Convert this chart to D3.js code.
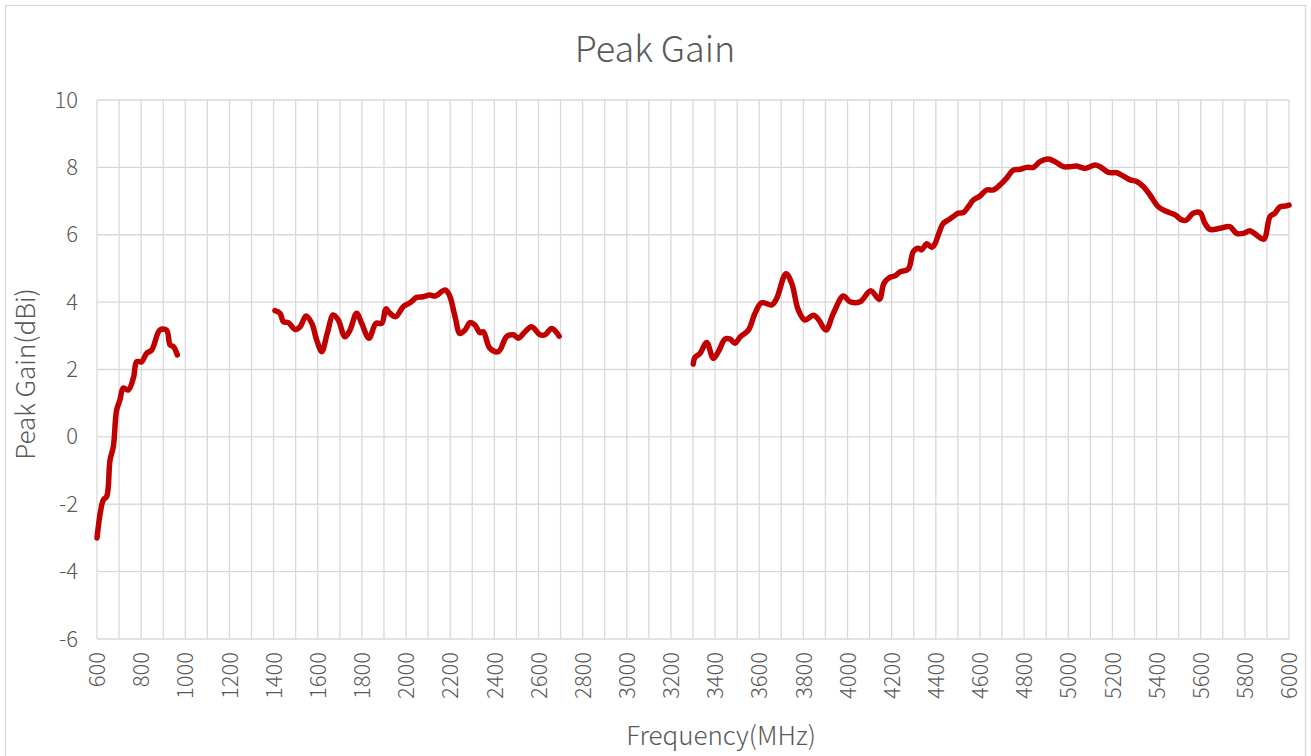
<!DOCTYPE html>
<html>
<head>
<meta charset="utf-8">
<script src="https://cdn.jsdelivr.net/npm/d3@7"></script>
<style>
  body { margin: 0; background: #fff; }
  text { font-family: "Noto Sans CJK SC", "Noto Sans", sans-serif; font-weight: 300; fill: #595959; }
</style>
</head>
<body>
<div class="chart-container"></div>
<script>
// data: [frequency MHz, peak gain dBi]
const band1 = [
  [600, -3.0], [629, -1.87], [644, -1.77], [659, -0.69], [674, -0.29], [689, 0.8],
  [704, 1.1], [719, 1.45], [742, 1.39], [765, 1.75], [780, 2.23], [802, 2.23],
  [825, 2.48], [848, 2.58], [885, 3.17], [915, 3.17], [931, 2.73], [946, 2.68], [964, 2.43]
];
const band2 = [
  [1406, 3.75], [1429, 3.67], [1444, 3.42], [1467, 3.39], [1497, 3.19], [1520, 3.27],
  [1547, 3.59], [1573, 3.37], [1595, 2.88], [1618, 2.53], [1643, 3.07], [1670, 3.62],
  [1693, 3.47], [1723, 2.97], [1746, 3.17], [1776, 3.67], [1799, 3.37], [1832, 2.93],
  [1864, 3.37], [1890, 3.37], [1909, 3.8], [1927, 3.67], [1953, 3.57], [1988, 3.87],
  [2018, 3.98], [2048, 4.14], [2078, 4.16], [2108, 4.21], [2131, 4.18], [2177, 4.36],
  [2196, 4.21], [2222, 3.57], [2244, 3.07], [2267, 3.17], [2290, 3.39], [2312, 3.32],
  [2335, 3.09], [2350, 3.12], [2380, 2.63], [2418, 2.53], [2456, 2.98], [2486, 3.03],
  [2509, 2.93], [2539, 3.12], [2569, 3.27], [2607, 3.03], [2630, 3.03], [2660, 3.22], [2694, 2.99]
];
const band3 = [
  [3301, 2.16], [3309, 2.36], [3332, 2.48], [3362, 2.8], [3392, 2.33], [3415, 2.53],
  [3445, 2.9], [3468, 2.9], [3490, 2.78], [3513, 2.96], [3551, 3.17], [3581, 3.67],
  [3611, 3.98], [3657, 3.92], [3679, 4.11], [3721, 4.84], [3747, 4.56], [3777, 3.77],
  [3807, 3.47], [3845, 3.61], [3868, 3.49], [3902, 3.17], [3936, 3.67], [3981, 4.18],
  [4011, 4.01], [4057, 4.01], [4105, 4.34], [4144, 4.08], [4165, 4.56], [4193, 4.74],
  [4215, 4.78], [4238, 4.9], [4275, 4.98], [4298, 5.5], [4321, 5.6], [4336, 5.55],
  [4359, 5.73], [4381, 5.63], [4396, 5.73], [4411, 5.99], [4434, 6.34], [4457, 6.44],
  [4479, 6.54], [4502, 6.64], [4525, 6.66], [4547, 6.83], [4570, 7.03], [4600, 7.15],
  [4630, 7.33], [4661, 7.33], [4691, 7.48], [4721, 7.68], [4751, 7.92], [4781, 7.94],
  [4812, 8.0], [4842, 8.0], [4872, 8.17], [4910, 8.25], [4940, 8.17], [4978, 8.02],
  [5008, 8.02], [5038, 8.04], [5076, 7.97], [5121, 8.07], [5144, 8.02], [5182, 7.85],
  [5220, 7.84], [5242, 7.77], [5280, 7.63], [5310, 7.58], [5340, 7.43], [5370, 7.18],
  [5408, 6.83], [5446, 6.69], [5484, 6.59], [5514, 6.44], [5536, 6.44], [5566, 6.64],
  [5597, 6.66], [5619, 6.34], [5642, 6.16], [5687, 6.19], [5732, 6.24], [5762, 6.04],
  [5793, 6.04], [5823, 6.12], [5853, 5.99], [5886, 5.87], [5914, 6.54], [5936, 6.64],
  [5959, 6.83], [5982, 6.85], [6000, 6.88]
];
const bands = [band1, band2, band3];
const xTicks = d3.range(600, 6001, 200);
const xGrid = d3.range(600, 6001, 100);
const yTicks = d3.range(-6, 11, 2);

const svg_width = 1311;
const svg_height = 756;
const chart_margin = { top: 100, right: 22, bottom: 117, left: 97 };
const chart_width = svg_width - chart_margin.left - chart_margin.right;
const chart_height = svg_height - chart_margin.top - chart_margin.bottom;
const tickFont = '22px';
const plainNum = d => String(d).replace('\u2212', '-');

const svg = d3.select('.chart-container').append('svg')
  .attr('width', svg_width).attr('height', svg_height);

// outer chart border
svg.append('rect')
  .attr('x', 5.5).attr('y', 5.5)
  .attr('width', 1300).attr('height', 760)
  .attr('fill', 'none').attr('stroke', '#d9d9d9').attr('stroke-width', 1.3);

const g = svg.append('g')
  .attr('transform', `translate(${chart_margin.left},${chart_margin.top})`);

const xScale = d3.scaleLinear().domain([600, 6000]).range([0, chart_width]);
const yScale = d3.scaleLinear().domain([-6, 10]).range([chart_height, 0]);

// grid
g.append('g').selectAll('line').data(xGrid).join('line')
  .attr('x1', d => xScale(d)).attr('x2', d => xScale(d))
  .attr('y1', 0).attr('y2', chart_height)
  .attr('stroke', '#d9d9d9').attr('stroke-width', 1.3);
g.append('g').selectAll('line').data(yTicks).join('line')
  .attr('x1', 0).attr('x2', chart_width)
  .attr('y1', d => yScale(d)).attr('y2', d => yScale(d))
  .attr('stroke', '#d9d9d9').attr('stroke-width', 1.3);

// axes (labels only)
const xAxis = d3.axisBottom(xScale).tickValues(xTicks).tickFormat(plainNum).tickSize(0).tickPadding(0);
const xAxisDraw = g.append('g').attr('transform', `translate(0,${chart_height})`).call(xAxis);
xAxisDraw.select('.domain').remove();
xAxisDraw.selectAll('text')
  .attr('transform', 'rotate(-90)')
  .attr('x', -13).attr('y', 0).attr('dy', '0.35em')
  .style('text-anchor', 'end')
  .style('font-size', tickFont)
  .style('font-family', '"Noto Sans CJK SC", "Noto Sans", sans-serif')
  .style('font-weight', 300)
  .style('fill', '#595959');

const yAxis = d3.axisLeft(yScale).tickValues(yTicks).tickFormat(plainNum).tickSize(0).tickPadding(19);
const yAxisDraw = g.append('g').call(yAxis);
yAxisDraw.select('.domain').remove();
yAxisDraw.selectAll('text')
  .style('font-size', tickFont)
  .style('font-family', '"Noto Sans CJK SC", "Noto Sans", sans-serif')
  .style('font-weight', 300)
  .style('fill', '#595959');

// curves
const line = d3.line()
  .x(d => xScale(d[0]))
  .y(d => yScale(d[1]))
  .curve(d3.curveCatmullRom);
g.append('g').selectAll('path').data(bands).join('path')
  .attr('d', line)
  .attr('fill', 'none')
  .attr('stroke', '#c00000')
  .attr('stroke-width', 5.5)
  .attr('stroke-linecap', 'round')
  .attr('stroke-linejoin', 'round');

// titles
svg.append('text').text('Peak Gain')
  .attr('x', 655).attr('y', 62)
  .style('text-anchor', 'middle').style('font-size', '36px');
svg.append('text').text('Frequency(MHz)')
  .attr('x', 721).attr('y', 745)
  .style('text-anchor', 'middle').style('font-size', '26px');
svg.append('text').text('Peak Gain(dBi)')
  .attr('transform', 'translate(35,374) rotate(-90)')
  .style('text-anchor', 'middle').style('font-size', '26px');
</script>
</body>
</html>
